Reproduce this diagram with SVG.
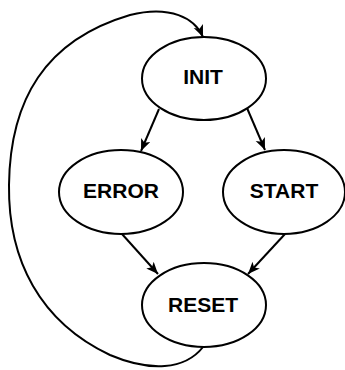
<svg xmlns="http://www.w3.org/2000/svg" width="345" height="370" viewBox="0 0 345 370">
  <style>
    .node ellipse { fill: #ffffff; stroke: #000000; stroke-width: 2; }
    .node text { font-family: "Liberation Sans", Arial, Helvetica, sans-serif; font-weight: bold; font-size: 21px; text-anchor: middle; fill: #000000; }
    .edge { fill: none; stroke: #000000; stroke-width: 2; marker-end: url(#arrow); }
  </style>
  <defs>
    <marker id="arrow" markerUnits="userSpaceOnUse" markerWidth="14" markerHeight="12" refX="12" refY="5" orient="auto">
      <path d="M0,0 L12,5 L0,10 L3,5 z" fill="#000000"/>
    </marker>
  </defs>
  <rect width="345" height="370" fill="#ffffff"/>

  <g id="connectors">
    <path class="edge" d="M159,109 L141,151"/>
    <path class="edge" d="M247,108 L265,150"/>
    <path class="edge" d="M122,234 L158,274"/>
    <path class="edge" d="M285,234 L248,274"/>
    <path class="edge" d="M203,347 C185,370 150,372 110,355 C40,322 8,260 9,185 C10,100 45,40 130,15 C170,5 195,18 203,37"/>
  </g>

  <g id="INIT" class="node">
    <ellipse cx="204" cy="78.5" rx="62" ry="41.5"/>
    <text x="203" y="84">INIT</text>
  </g>
  <g id="ERROR" class="node">
    <ellipse cx="121" cy="192" rx="62" ry="42"/>
    <text x="121" y="198">ERROR</text>
  </g>
  <g id="START" class="node">
    <ellipse cx="284" cy="192" rx="61" ry="42"/>
    <text x="284" y="198">START</text>
  </g>
  <g id="RESET" class="node">
    <ellipse cx="204" cy="305" rx="62" ry="42"/>
    <text x="203" y="311.5">RESET</text>
  </g>
</svg>
